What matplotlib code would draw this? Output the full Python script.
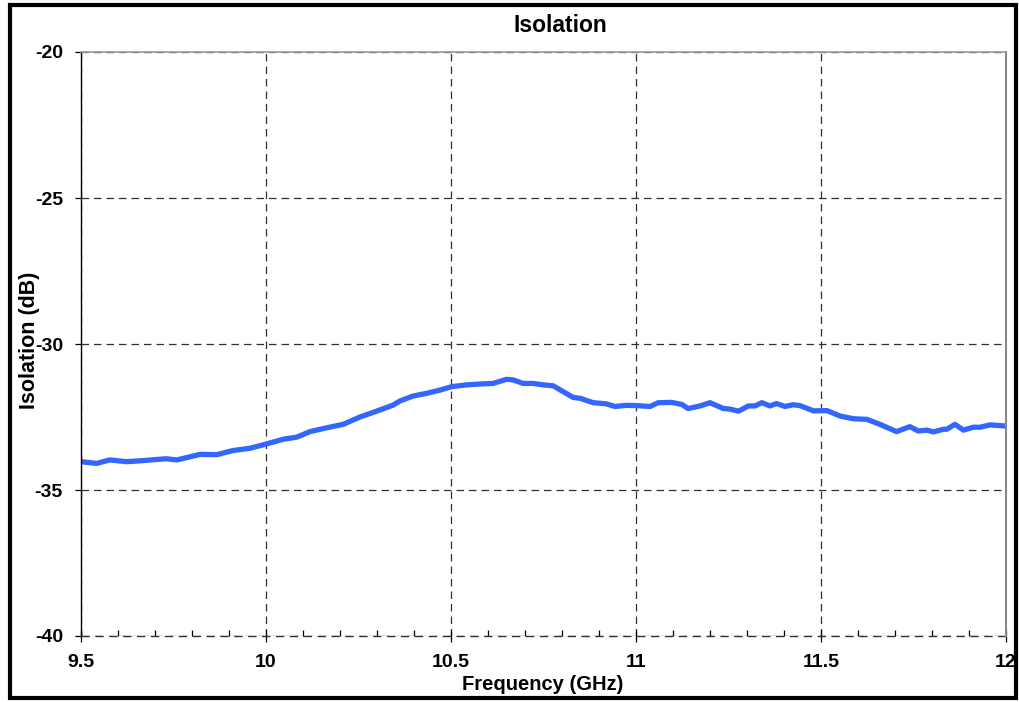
import matplotlib
matplotlib.use("Agg")
import matplotlib.pyplot as plt
from matplotlib.patches import Rectangle
from matplotlib.ticker import MultipleLocator

plt.rcParams['font.family'] = ['Liberation Sans', 'DejaVu Sans']
plt.rcParams['axes.unicode_minus'] = False

freq_ghz = [9.500, 9.542, 9.578, 9.623, 9.660, 9.730, 9.759, 9.822, 9.867, 9.910,
            9.957, 10.002, 10.047, 10.083, 10.119, 10.164, 10.209, 10.254, 10.299, 10.344,
            10.362, 10.398, 10.434, 10.470, 10.502, 10.542, 10.578, 10.614, 10.650, 10.668,
            10.695, 10.722, 10.749, 10.776, 10.803, 10.830, 10.849, 10.884, 10.920, 10.943,
            10.975, 11.002, 11.038, 11.060, 11.096, 11.124, 11.141, 11.173, 11.200, 11.236,
            11.254, 11.277, 11.304, 11.322, 11.340, 11.362, 11.380, 11.403, 11.425, 11.443,
            11.480, 11.516, 11.552, 11.588, 11.624, 11.659, 11.704, 11.740, 11.763, 11.786,
            11.804, 11.831, 11.840, 11.862, 11.885, 11.912, 11.930, 11.957, 12.000]
isolation_db = [-34.03, -34.09, -33.97, -34.03, -34.00, -33.93, -33.97, -33.78, -33.79, -33.65,
                -33.57, -33.42, -33.26, -33.19, -33.00, -32.87, -32.75, -32.50, -32.30, -32.09,
                -31.95, -31.78, -31.69, -31.58, -31.46, -31.40, -31.37, -31.35, -31.21, -31.23,
                -31.35, -31.35, -31.40, -31.43, -31.63, -31.83, -31.86, -32.01, -32.05, -32.14,
                -32.10, -32.11, -32.14, -32.01, -32.00, -32.07, -32.21, -32.12, -32.01, -32.21,
                -32.23, -32.30, -32.12, -32.12, -32.01, -32.12, -32.04, -32.14, -32.08, -32.11,
                -32.29, -32.28, -32.47, -32.56, -32.58, -32.75, -33.00, -32.83, -32.98, -32.95,
                -33.01, -32.92, -32.92, -32.75, -32.95, -32.85, -32.85, -32.77, -32.81]
x_ticks = [9.5, 10, 10.5, 11, 11.5, 12]
x_ticklabels = ['9.5', '10', '10.5', '11', '11.5', '12']

fig = plt.figure(figsize=(10.19, 7.02), dpi=100)
ax = fig.add_axes([81 / 1019, 66 / 702, 925 / 1019, 584 / 702])

ax.plot(freq_ghz, isolation_db, color='#3366FF', lw=3.8, solid_joinstyle='round')

ax.set_xlim(9.5, 12)
ax.set_ylim(-40, -20)
ax.set_xticks(x_ticks)
ax.set_xticklabels(x_ticklabels)
ax.xaxis.set_minor_locator(MultipleLocator(0.1))
ax.yaxis.set_major_locator(MultipleLocator(5))

ax.grid(True, which='major', color='#303030', ls=(0, (6, 4)), lw=0.9)
# bottom edge is a dashed line as well
ax.axhline(-40, color='#303030', ls=(0, (6, 4)), lw=1.0, clip_on=False)
ax.tick_params(axis='x', which='major', direction='inout', length=8, width=0.9,
               pad=9, labelsize=14)
ax.tick_params(axis='x', which='minor', direction='in', length=4, width=0.9)
ax.tick_params(axis='y', which='major', direction='out', length=4.5, width=0.9,
               pad=8.5, labelsize=14)
for lbl in ax.get_xticklabels() + ax.get_yticklabels():
    lbl.set_fontweight('bold')

ax.spines['bottom'].set_visible(False)
ax.spines['left'].set_color('black')
ax.spines['left'].set_linewidth(1.0)
ax.spines['right'].set_color('#888888')
ax.spines['right'].set_linewidth(1.5)
ax.spines['top'].set_color('#999999')
ax.spines['top'].set_linewidth(1.2)

fig.text(560 / 1019, 1 - 25 / 702, 'Isolation', ha='center', va='center',
         fontsize=16.5, fontweight='bold')
fig.text(543 / 1019, 1 - 685 / 702, 'Frequency (GHz)', ha='center', va='center',
         fontsize=14.5, fontweight='bold')
fig.text(29 / 1019, 1 - 340 / 702, 'Isolation (dB)', ha='center', va='center',
         rotation=90, fontsize=15.5, fontweight='bold')

# black frame round the whole chart
fig.patches.append(Rectangle((10 / 1019, 4 / 702), 1006 / 1019, 693 / 702,
                             transform=fig.transFigure, fill=False,
                             edgecolor='black', lw=3))

fig.savefig('out.png', dpi=100)
